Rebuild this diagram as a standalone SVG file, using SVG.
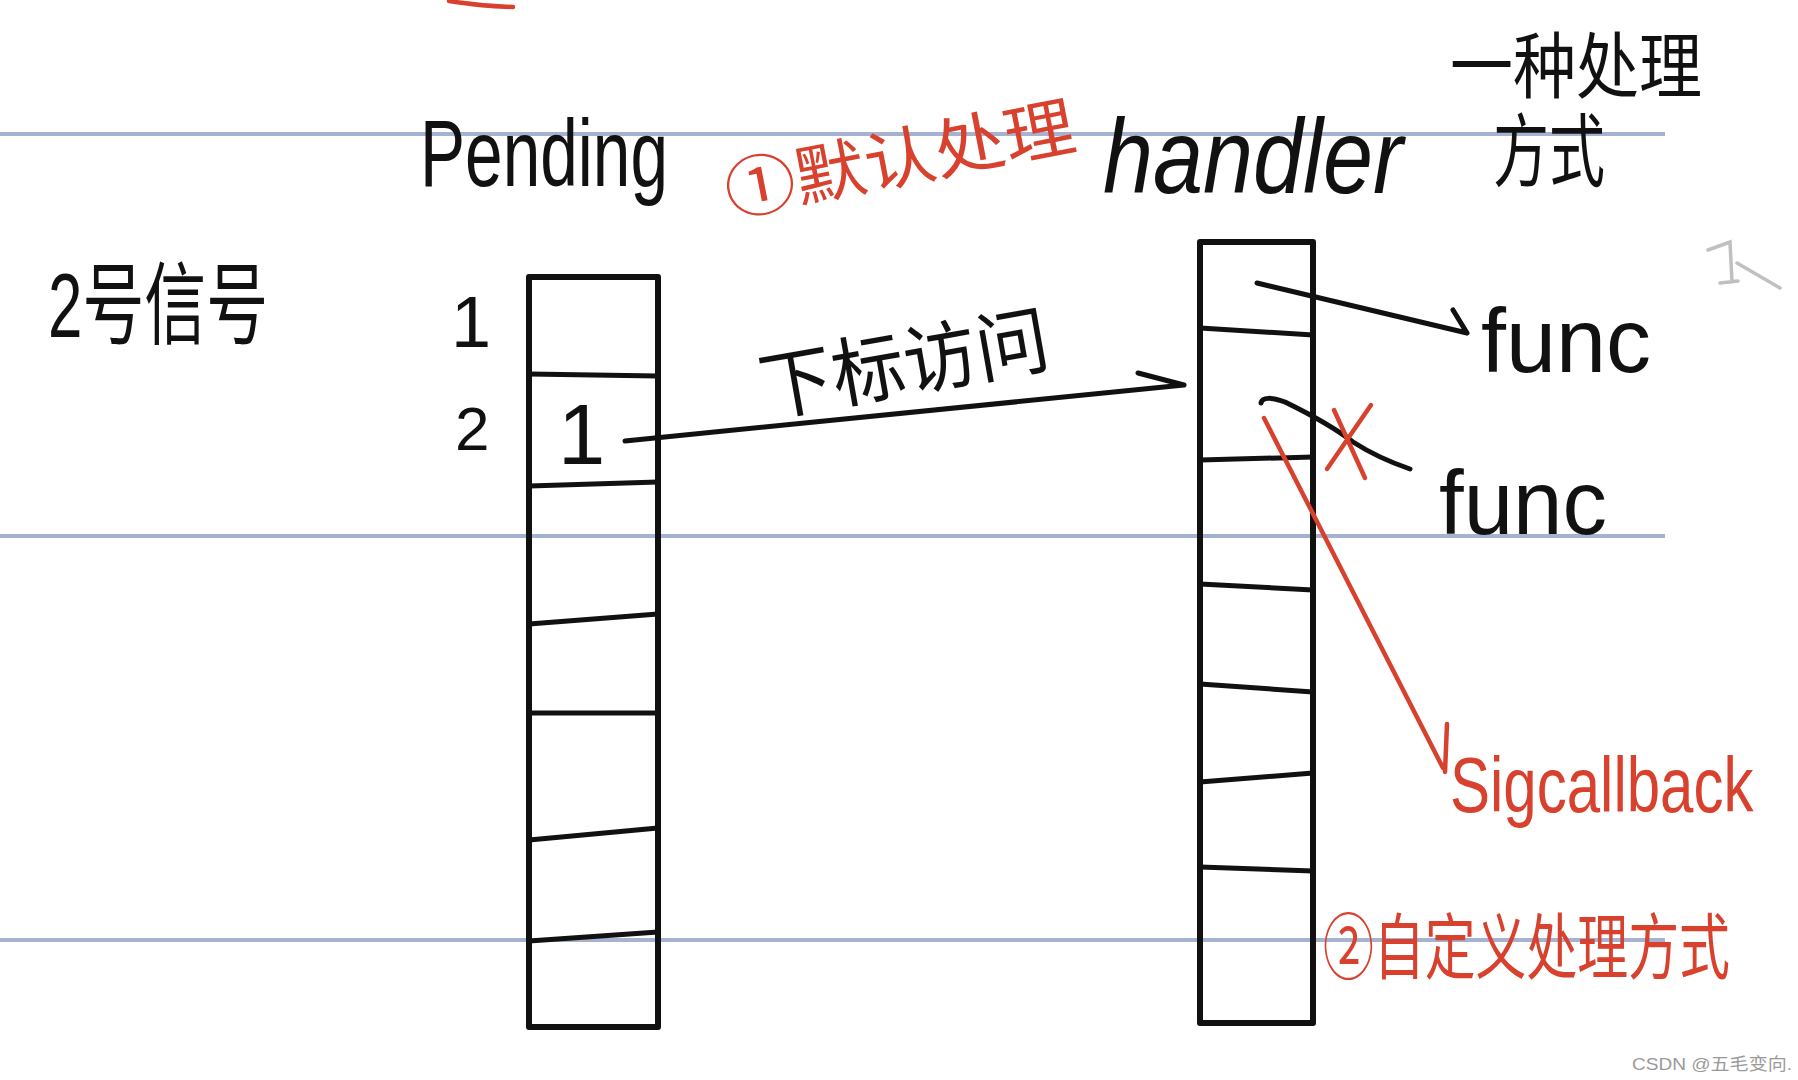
<svg xmlns="http://www.w3.org/2000/svg" width="1798" height="1080" viewBox="0 0 1798 1080">
<style>
.rule{stroke:#a5b3d0;stroke-width:4;fill:none}
.ink{stroke:#111;stroke-width:5;fill:none;stroke-linecap:round;stroke-linejoin:round}
.box{stroke:#111;stroke-width:6;fill:none;stroke-linejoin:round}
.red{stroke:#d9412f;stroke-width:4.5;fill:none;stroke-linecap:round}
.t{font-family:"Liberation Sans","Noto Sans CJK SC",sans-serif;fill:#111}
.tr{font-family:"Liberation Sans","Noto Sans CJK SC",sans-serif;fill:#d9412f}
.wm{font-family:"Liberation Sans","Noto Sans CJK SC",sans-serif;fill:#9a9a9a;font-size:17px}
</style>
<rect width="1798" height="1080" fill="#ffffff"/>
<g id="ruled-lines">
<line class="rule" x1="0" y1="134" x2="1665" y2="134"/>
<line class="rule" x1="0" y1="536" x2="1665" y2="536"/>
<line class="rule" x1="0" y1="940" x2="1665" y2="940"/>
</g>
<g id="red-mark-top"><path class="red" d="M449,1 Q480,6 513,7"/></g>
<g id="gray-mark"><path d="M1708,250 L1730,242 L1732,282 M1720,283 L1738,281 M1737,263 L1780,288" stroke="#b0b0b0" stroke-width="3.5" fill="none" stroke-linecap="round" opacity="0.8"/></g>
<g id="label-signal2"><text class="t" x="48" y="337" font-size="90" textLength="220" lengthAdjust="spacingAndGlyphs">2号信号</text></g>
<g id="label-pending"><text class="t" x="420" y="186" font-size="95" textLength="248" lengthAdjust="spacingAndGlyphs">Pending</text></g>
<g id="label-default"><text class="tr" x="730" y="216" font-size="66" textLength="355" lengthAdjust="spacingAndGlyphs" transform="rotate(-11 730 216)">①默认处理</text></g>
<g id="label-handler"><text class="t" x="1103" y="193" font-size="105" font-style="italic" textLength="300" lengthAdjust="spacingAndGlyphs">handler</text></g>
<g id="label-way">
<text class="t" x="1450" y="92" font-size="72" textLength="252" lengthAdjust="spacingAndGlyphs">一种处理</text>
<text class="t" x="1493" y="180" font-size="80" textLength="112" lengthAdjust="spacingAndGlyphs">方式</text>
</g>
<g id="pending-array">
<rect class="box" x="529" y="277" width="129" height="750"/>
<path class="ink" d="M529,374 L658,376 M529,486 L658,482 M529,624 L658,614 M529,713 L658,713 M529,840 L658,828 M529,941 L658,932"/>
<text class="t" x="451" y="347" font-size="72">1</text>
<text class="t" x="455" y="450" font-size="62">2</text>
<text class="t" x="558" y="464" font-size="85">1</text>
</g>
<g id="handler-array">
<rect class="box" x="1200" y="242" width="113" height="781"/>
<path class="ink" d="M1200,328 L1313,335 M1200,460 L1313,457 M1200,584 L1313,590 M1200,684 L1313,692 M1200,782 L1313,773 M1200,867 L1313,871"/>
</g>
<g id="label-index"><text class="t" x="765" y="416" font-size="76" textLength="292" lengthAdjust="spacingAndGlyphs" transform="rotate(-10 765 416)">下标访问</text></g>
<g id="func-1"><text class="t" x="1481" y="372" font-size="90" textLength="170" lengthAdjust="spacingAndGlyphs">func</text></g>
<g id="func-2"><text class="t" x="1439" y="534" font-size="90" textLength="168" lengthAdjust="spacingAndGlyphs">func</text></g>
<g id="label-sigcallback"><text class="tr" x="0" y="0" font-size="60" transform="translate(1450 812) scale(1 1.3)">Sigcallback</text></g>
<g id="label-custom"><text class="tr" x="0" y="0" font-size="51" textLength="407" lengthAdjust="spacingAndGlyphs" transform="translate(1323 973) scale(1 1.4)">②自定义处理方式</text></g>
<g id="connectors">
<path class="ink" d="M625,441 L1184,385 M1138,373 L1184,385"/>
<path class="ink" d="M1257,283 L1467,333 M1453,310 L1467,333"/>
<path class="ink" d="M1261,403 C1262,397 1272,397 1285,402 Q1330,424 1353,442 Q1378,458 1410,469"/>
<path class="red" d="M1334,410 L1365,478 M1371,405 L1327,469"/>
<path class="red" d="M1264,418 L1443,768 M1447,724 L1445,772"/>
</g>
<g id="watermark"><text class="wm" x="1632" y="1070" textLength="160" lengthAdjust="spacingAndGlyphs">CSDN @五毛变向.</text></g>
</svg>
